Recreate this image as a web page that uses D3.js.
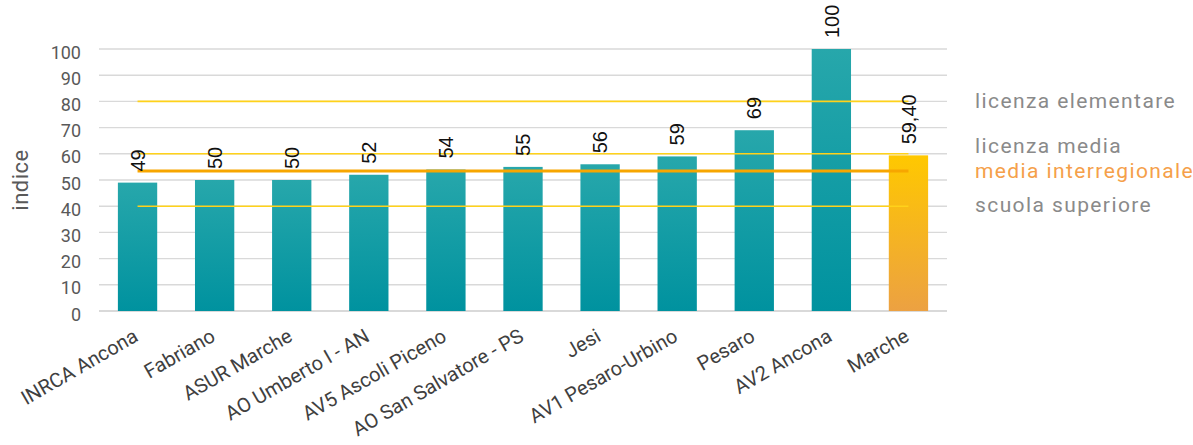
<!DOCTYPE html>
<html><head><meta charset="utf-8">
<script src="https://cdn.jsdelivr.net/npm/d3@7"></script>
<style>body{margin:0;background:#fff}</style></head>
<body><svg id="c" width="1193" height="445"></svg>
<script>
const categories = ["INRCA Ancona","Fabriano","ASUR Marche","AO Umberto I - AN","AV5 Ascoli Piceno","AO San Salvatore - PS","Jesi","AV1 Pesaro-Urbino","Pesaro","AV2 Ancona","Marche"];
const values = [49,50,50,52,54,55,56,59,69,100,59.4];
const valueLabels = ["49","50","50","52","54","55","56","59","69","100","59,40"];
const yTicks = [0,10,20,30,40,50,60,70,80,90,100];
const refNames = ["licenza elementare","licenza media","media interregionale","scuola superiore"];
const refValues = [80,60,53.4,40];
const yTitle = "indice";

const svg = d3.select("#c");
const x = d3.scaleBand().domain(categories).range([99,947]).paddingInner(0.49).paddingOuter(0.245);
const y = d3.scaleLinear().domain([0,100]).range([311,49]);

const defs = svg.append("defs");
function grad(id, c1, c2){
  const g = defs.append("linearGradient").attr("id",id).attr("x1",0).attr("y1",0).attr("x2",0).attr("y2",1);
  g.append("stop").attr("offset","0%").attr("stop-color",c1);
  g.append("stop").attr("offset","100%").attr("stop-color",c2);
}
grad("gTeal","#27a7ab","#00929f");
grad("gOrange","#ffc800","#eca142");

// grid
svg.append("g").selectAll("line").data(yTicks).join("line")
  .attr("x1",99).attr("x2",947)
  .attr("y1",d=>y(d)).attr("y2",d=>y(d))
  .attr("stroke",d=>d===0?"#cccccc":"#d9d9d9").attr("stroke-width",1.4);

// y axis labels
const yAxis = d3.axisLeft(y).tickValues(yTicks).tickSize(0).tickPadding(0);
const ya = svg.append("g").attr("transform","translate(81,0)").call(yAxis);
ya.select(".domain").remove();
ya.selectAll("text").attr("font-family","Roboto").attr("font-size",18).attr("fill","#595959").attr("dy","0.5em");

svg.append("text").attr("transform","translate(28,180) rotate(-90)")
  .attr("text-anchor","middle").attr("font-family","Roboto").attr("font-size",22)
  .attr("letter-spacing",0.5).attr("fill","#595959").text(yTitle);

// bars
const last = categories.length-1;
svg.append("g").selectAll("rect").data(values).join("rect")
  .attr("x",(d,i)=>x(categories[i])).attr("width",x.bandwidth())
  .attr("y",d=>y(d)).attr("height",d=>y(0)-y(d))
  .attr("fill",(d,i)=>i===last?"url(#gOrange)":"url(#gTeal)");

// reference lines
const xs = x(categories[0])+x.bandwidth()/2, xe = x(categories[last])+x.bandwidth()/2;
svg.append("g").selectAll("line").data(refValues).join("line")
  .attr("x1",xs).attr("x2",xe)
  .attr("y1",d=>y(d)).attr("y2",d=>y(d))
  .attr("stroke",(d,i)=>i===2?"#f7a600":"#ffd21a")
  .attr("stroke-width",(d,i)=>i===2?3:1.6);

// value labels
svg.append("g").selectAll("text").data(values).join("text")
  .attr("transform",(d,i)=>`translate(${x(categories[i])+x.bandwidth()/2},${y(d)-11}) rotate(-90)`)
  .attr("dy","0.36em")
  .attr("font-family","'Liberation Sans Narrow','Liberation Sans',sans-serif").attr("font-size",20)
  .attr("fill","#111").text((d,i)=>valueLabels[i]);

// x labels
svg.append("g").selectAll("text").data(categories).join("text")
  .attr("transform",d=>`translate(${x(d)+x.bandwidth()/2+2},340) rotate(-30)`)
  .attr("text-anchor","end").attr("font-family","Roboto").attr("font-size",20)
  .attr("fill","#404040").text(d=>d);

// legend
const legShift = [7,-1,7,6];
svg.append("g").selectAll("text").data(refNames).join("text")
  .attr("x",975).attr("y",(d,i)=>y(refValues[i])+legShift[i])
  .attr("font-family","Roboto").attr("font-size",21).attr("letter-spacing",1.4)
  .attr("fill",(d,i)=>i===2?"#f5a04a":"#8a8a8a").text(d=>d);
</script></body></html>
